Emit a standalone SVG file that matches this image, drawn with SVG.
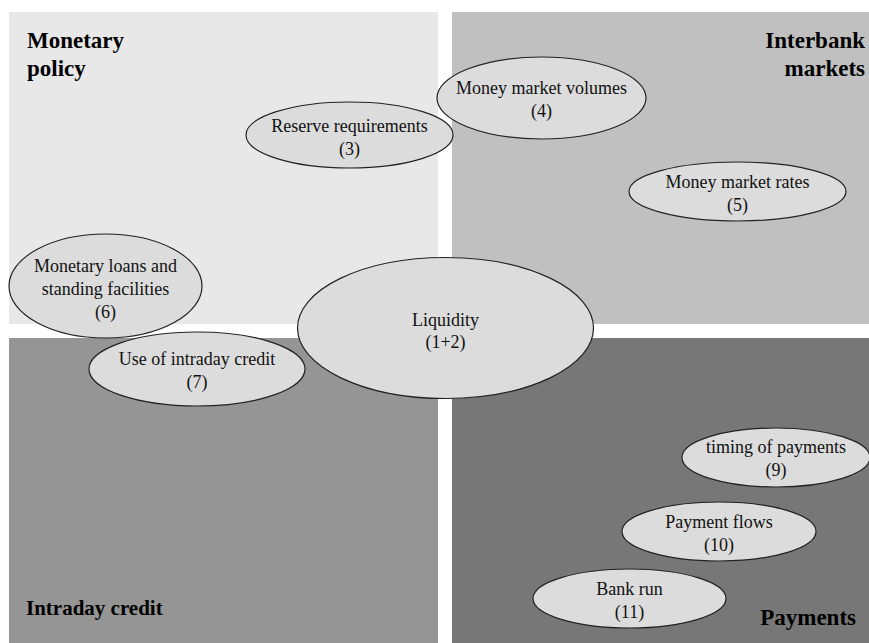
<svg xmlns="http://www.w3.org/2000/svg" width="869" height="643" viewBox="0 0 869 643">
<style>
text{font-family:'Liberation Serif','Times New Roman',serif}
.node ellipse{fill:#dcdcdc;stroke:#222;stroke-width:1.2}
.lbl{font-size:18px;fill:#111;text-anchor:middle}
.hdr{font-size:23px;font-weight:bold;fill:#000}
</style>
<rect x="0" y="0" width="869" height="643" fill="#fff"/>
<g id="quadrants">
<rect id="q-monetary" x="9" y="12" width="429" height="312" fill="#e8e8e8"/>
<rect id="q-interbank" x="452" y="12" width="417" height="312" fill="#c0c0c0"/>
<rect id="q-intraday" x="9" y="338" width="429" height="305" fill="#959595"/>
<rect id="q-payments" x="452" y="338" width="417" height="305" fill="#777777"/>
</g>
<g id="headers">
<text class="hdr" x="27" y="48">Monetary</text>
<text class="hdr" x="27" y="76">policy</text>
<text class="hdr" x="865" y="48" text-anchor="end">Interbank</text>
<text class="hdr" x="865" y="76" text-anchor="end">markets</text>
<text class="hdr" x="26" y="615" style="font-size:21px">Intraday credit</text>
<text class="hdr" x="856" y="625" text-anchor="end">Payments</text>
</g>
<g id="connectors"></g>
<g id="n3" class="node"><ellipse cx="349.5" cy="135" rx="103.5" ry="33"/><text class="lbl" x="349.5" y="132">Reserve requirements</text><text class="lbl" x="349.5" y="155">(3)</text></g>
<g id="n4" class="node"><ellipse cx="541.5" cy="98" rx="104.5" ry="41"/><text class="lbl" x="541.5" y="94">Money market volumes</text><text class="lbl" x="541.5" y="117">(4)</text></g>
<g id="n5" class="node"><ellipse cx="737.5" cy="191.5" rx="108.5" ry="29.5"/><text class="lbl" x="737.5" y="188">Money market rates</text><text class="lbl" x="737.5" y="211">(5)</text></g>
<g id="n6" class="node"><ellipse cx="105.5" cy="286" rx="96.5" ry="52"/><text class="lbl" x="105.5" y="272">Monetary loans and</text><text class="lbl" x="105.5" y="295">standing facilities</text><text class="lbl" x="105.5" y="318">(6)</text></g>
<g id="n7" class="node"><ellipse cx="197" cy="369" rx="108" ry="37"/><text class="lbl" x="197" y="365">Use of intraday credit</text><text class="lbl" x="197" y="388">(7)</text></g>
<g id="n1" class="node"><ellipse cx="445.5" cy="328" rx="148" ry="70.5"/><text class="lbl" x="445.5" y="326">Liquidity</text><text class="lbl" x="445.5" y="348">(1+2)</text></g>
<g id="n9" class="node"><ellipse cx="776" cy="457.5" rx="94" ry="29.5"/><text class="lbl" x="776" y="453">timing of payments</text><text class="lbl" x="776" y="476">(9)</text></g>
<g id="n10" class="node"><ellipse cx="719" cy="531.5" rx="97" ry="29.5"/><text class="lbl" x="719" y="528">Payment flows</text><text class="lbl" x="719" y="551">(10)</text></g>
<g id="n11" class="node"><ellipse cx="629.5" cy="598.5" rx="96.5" ry="29.5"/><text class="lbl" x="629.5" y="595">Bank run</text><text class="lbl" x="629.5" y="618">(11)</text></g>
</svg>
